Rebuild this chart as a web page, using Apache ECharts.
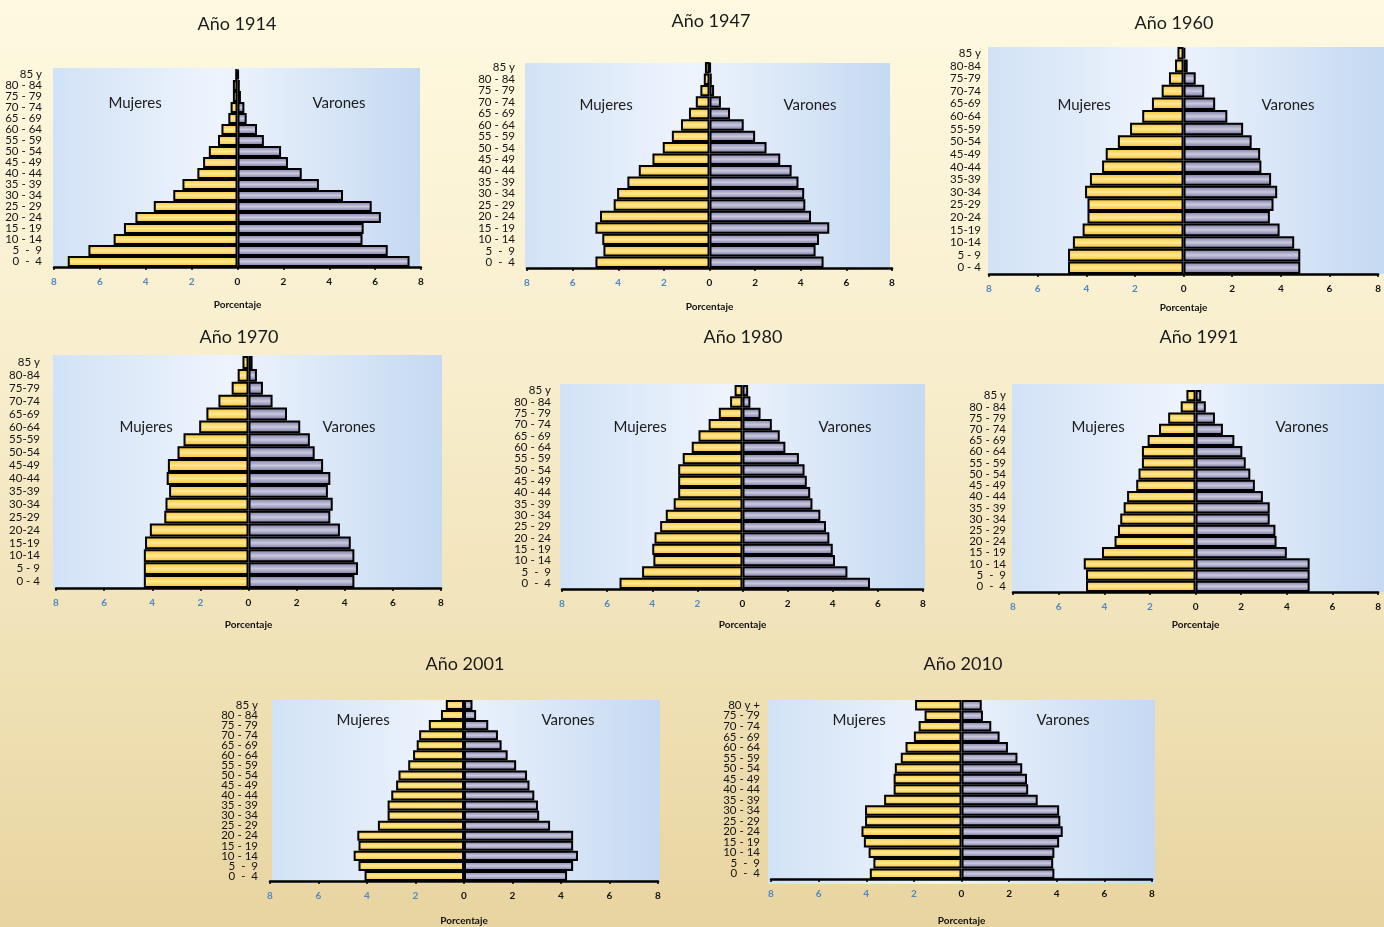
<!DOCTYPE html>
<html>
<head>
<meta charset="utf-8">
<title>Pirámides de población</title>
<script src="https://cdn.jsdelivr.net/npm/echarts@6/dist/echarts.min.js"></script>
<style>
  html, body { margin: 0; padding: 0; width: 1384px; height: 927px; overflow: hidden; }
  body { background: linear-gradient(to bottom, #fef9e0 0%, #f8eecd 40%, #efe0b4 75%, #e8d4a0 100%); }
  #chart { width: 1384px; height: 927px; }
</style>
</head>
<body>
<div id="chart"></div>
<script>
// Age groups (bottom to top)
const agesA = ['0  -  4', '5  -  9', '10 - 14', '15 - 19', '20 - 24', '25 - 29', '30 - 34', '35 - 39', '40 - 44', '45 - 49', '50 - 54', '55 - 59', '60 - 64', '65 - 69', '70 - 74', '75 - 79', '80 - 84', '85 y'];
const agesB = ['0 - 4', '5 - 9', '10-14', '15-19', '20-24', '25-29', '30-34', '35-39', '40-44', '45-49', '50-54', '55-59', '60-64', '65-69', '70-74', '75-79', '80-84', '85 y'];
const ages2010 = ['0  -  4', '5  -  9', '10 - 14', '15 - 19', '20 - 24', '25 - 29', '30 - 34', '35 - 39', '40 - 44', '45 - 49', '50 - 54', '55 - 59', '60 - 64', '65 - 69', '70 - 74', '75 - 79', '80 y +'];

// Percent of population per age group (bottom to top)
const mujeres1914 = [7.4, 6.5, 5.4, 4.95, 4.45, 3.65, 2.8, 2.4, 1.75, 1.5, 1.25, 0.85, 0.7, 0.4, 0.3, 0.2, 0.2, 0.1];
const varones1914 = [7.5, 6.55, 5.45, 5.5, 6.25, 5.85, 4.6, 3.55, 2.8, 2.2, 1.9, 1.15, 0.85, 0.4, 0.3, 0.15, 0.1, 0.05];

const mujeres1947 = [5.0, 4.65, 4.7, 5.0, 4.8, 4.2, 4.05, 3.6, 3.1, 2.5, 2.05, 1.65, 1.25, 0.9, 0.6, 0.4, 0.25, 0.2];
const varones1947 = [5.0, 4.65, 4.8, 5.25, 4.45, 4.2, 4.15, 3.9, 3.6, 3.1, 2.5, 2.0, 1.5, 0.9, 0.5, 0.2, 0.1, 0.05];

const mujeres1960 = [4.75, 4.75, 4.55, 4.15, 3.95, 3.95, 4.05, 3.85, 3.35, 3.2, 2.7, 2.2, 1.7, 1.3, 0.9, 0.6, 0.35, 0.25];
const varones1960 = [4.8, 4.8, 4.55, 3.95, 3.55, 3.7, 3.85, 3.6, 3.2, 3.15, 2.8, 2.45, 1.8, 1.3, 0.85, 0.5, 0.17, 0.07];

const mujeres1970 = [4.35, 4.35, 4.35, 4.3, 4.1, 3.5, 3.45, 3.3, 3.4, 3.35, 2.95, 2.7, 2.05, 1.75, 1.25, 0.7, 0.45, 0.25];
const varones1970 = [4.4, 4.55, 4.4, 4.25, 3.8, 3.4, 3.5, 3.3, 3.4, 3.1, 2.75, 2.55, 2.15, 1.6, 1.0, 0.6, 0.35, 0.17];

const mujeres1980 = [5.45, 4.45, 3.95, 4.0, 3.9, 3.65, 3.4, 3.05, 2.85, 2.85, 2.85, 2.65, 2.25, 1.95, 1.5, 1.05, 0.55, 0.35];
const varones1980 = [5.65, 4.65, 4.1, 4.0, 3.85, 3.7, 3.45, 3.1, 3.0, 2.85, 2.75, 2.5, 1.9, 1.65, 1.3, 0.8, 0.35, 0.25];

const mujeres1991 = [4.8, 4.8, 4.9, 4.1, 3.55, 3.4, 3.3, 3.15, 3.0, 2.6, 2.5, 2.35, 2.35, 2.1, 1.6, 1.2, 0.65, 0.4];
const varones1991 = [5.0, 5.0, 5.0, 4.0, 3.55, 3.5, 3.25, 3.25, 2.95, 2.6, 2.4, 2.2, 2.05, 1.7, 1.2, 0.85, 0.45, 0.25];

const mujeres2001 = [4.1, 4.35, 4.55, 4.35, 4.4, 3.55, 3.15, 3.15, 3.0, 2.8, 2.7, 2.3, 2.1, 1.95, 1.85, 1.45, 0.95, 0.75];
const varones2001 = [4.25, 4.5, 4.7, 4.5, 4.5, 3.55, 3.1, 3.05, 2.9, 2.7, 2.6, 2.15, 1.8, 1.55, 1.4, 1.0, 0.5, 0.35];

const mujeres2010 = [3.85, 3.7, 3.9, 4.1, 4.2, 4.05, 4.05, 3.25, 2.85, 2.85, 2.8, 2.55, 2.35, 2.0, 1.8, 1.55, 1.95];
const varones2010 = [3.9, 3.85, 3.9, 4.1, 4.25, 4.15, 4.1, 3.2, 2.8, 2.75, 2.55, 2.35, 1.95, 1.6, 1.25, 0.9, 0.85];

// Axis ticks (percent)
const xMin = -8, xMax = 8, xStep = 2;

const panels = [
  { year: '1914', ages: agesA,   mujeres: mujeres1914, varones: varones1914 },
  { year: '1947', ages: agesA,   mujeres: mujeres1947, varones: varones1947 },
  { year: '1960', ages: agesB,   mujeres: mujeres1960, varones: varones1960 },
  { year: '1970', ages: agesB,   mujeres: mujeres1970, varones: varones1970 },
  { year: '1980', ages: agesA,   mujeres: mujeres1980, varones: varones1980 },
  { year: '1991', ages: agesA,   mujeres: mujeres1991, varones: varones1991 },
  { year: '2001', ages: agesA,   mujeres: mujeres2001, varones: varones2001 },
  { year: '2010', ages: ages2010, mujeres: mujeres2010, varones: varones2010 }
];

// Placement of each pyramid on the page (pixels)
const layout = [
  { left: 54,   right: 421,  top: 69,  bottom: 267, bg: [53, 68, 420, 267],    title: [237, 25],  muj: [135, 103], var: [339, 103], lm: 12, ng: 33 },
  { left: 527,  right: 892,  top: 62,  bottom: 268, bg: [525, 63, 890, 268],   title: [711, 22],  muj: [606, 105], var: [810, 105], lm: 12, ng: 34 },
  { left: 989,  right: 1384, top: 47,  bottom: 274, bg: [988, 47, 1384, 274],  title: [1174, 24], muj: [1084, 105], var: [1288, 105], lm: 8, ng: 29 },
  { left: 56,   right: 441,  top: 356, bottom: 588, bg: [53, 355, 442, 588],   title: [239, 338], muj: [146, 427], var: [349, 427], lm: 16, ng: 32 },
  { left: 562,  right: 923,  top: 385, bottom: 589, bg: [560, 384, 925, 589],  title: [743, 338], muj: [640, 427], var: [845, 427], lm: 11, ng: 31 },
  { left: 1013, right: 1383, top: 390, bottom: 592, bg: [1012, 384, 1384, 592], title: [1199, 338], muj: [1098, 427], var: [1302, 427], lm: 7, ng: 28 },
  { left: 270,  right: 658,  top: 700, bottom: 883, bg: [272, 700, 660, 883],  title: [465, 665], muj: [363, 720], var: [568, 720], lm: 12, ng: 35 },
  { left: 771,  right: 1152, top: 700, bottom: 884, bg: [768, 700, 1155, 884], title: [963, 665], muj: [859, 720], var: [1063, 720], lm: 11, ng: 37 }
];

const FONT = 'Lato, "Open Sans", sans-serif';

// Bars are shaded like rounded tubes: deeper tone at top and bottom edges
const womenFill = {
  type: 'linear', x: 0, y: 0, x2: 0, y2: 1,
  colorStops: [
    { offset: 0, color: '#f5be22' },
    { offset: 0.5, color: '#ffe995' },
    { offset: 1, color: '#f2b91e' }
  ]
};
const menFill = {
  type: 'linear', x: 0, y: 0, x2: 0, y2: 1,
  colorStops: [
    { offset: 0, color: '#71719c' },
    { offset: 0.5, color: '#c9c9df' },
    { offset: 1, color: '#6a6a95' }
  ]
};
const plotFill = {
  type: 'linear', x: 0, y: 0, x2: 1, y2: 0,
  colorStops: [
    { offset: 0, color: '#d2e2f6' },
    { offset: 0.45, color: '#eef4fd' },
    { offset: 1, color: '#c5d9f2' }
  ]
};

const option = {
  animation: false,
  title: [], grid: [], xAxis: [], yAxis: [], series: [], graphic: []
};

panels.forEach((p, i) => {
  const L = layout[i];
  option.title.push({
    text: 'Año ' + p.year, padding: 0,
    left: L.title[0], top: L.title[1] - 10, textAlign: 'center',
    textStyle: { fontFamily: FONT, fontSize: 18, fontWeight: 'normal', color: '#1a1a1a' }
  });
  option.grid.push({
    left: L.left, top: L.top, width: L.right - L.left, height: L.bottom - L.top,
    containLabel: false
  });
  option.xAxis.push({
    gridIndex: i, type: 'value', min: xMin, max: xMax, interval: xStep,
    name: 'Porcentaje', nameLocation: 'middle', nameGap: L.ng,
    nameTextStyle: { fontFamily: FONT, fontSize: 10, fontWeight: 'bold', color: '#111' },
    axisLine: { show: true, lineStyle: { color: '#000', width: 2.5 } },
    axisTick: { show: true, length: 3, lineStyle: { color: '#000', width: 1.5 } },
    splitLine: { show: false },
    axisLabel: {
      margin: 10, fontFamily: FONT, fontSize: 10, fontWeight: 'bold',
      showMinLabel: true, showMaxLabel: true,
      formatter: v => String(Math.abs(v)),
      color: v => (v < 0 ? '#4f88c6' : '#111')
    }
  });
  option.yAxis.push({
    gridIndex: i, type: 'category', data: p.ages, position: 'left',
    axisLine: { show: false, onZero: false },
    axisTick: { show: false },
    splitLine: { show: false },
    axisLabel: { interval: 0, margin: L.lm, fontFamily: FONT, fontSize: 11.5, color: '#141414' }
  });
  option.series.push({
    name: 'Mujeres', type: 'bar', xAxisIndex: i, yAxisIndex: i, stack: 'p' + i,
    barCategoryGap: '0%',
    data: p.mujeres.map(v => -v),
    itemStyle: { color: womenFill, borderColor: '#000', borderWidth: 2 },
    emphasis: { disabled: true }
  });
  option.series.push({
    name: 'Varones', type: 'bar', xAxisIndex: i, yAxisIndex: i, stack: 'p' + i,
    barCategoryGap: '0%',
    data: p.varones,
    itemStyle: { color: menFill, borderColor: '#000', borderWidth: 2 },
    emphasis: { disabled: true }
  });
  option.graphic.push({
    type: 'rect', z: -100, silent: true,
    shape: { x: L.bg[0], y: L.bg[1], width: L.bg[2] - L.bg[0], height: L.bg[3] - L.bg[1] },
    style: { fill: plotFill }
  });
  option.graphic.push({
    type: 'text', z: 100, silent: true, x: L.muj[0], y: L.muj[1],
    style: { text: 'Mujeres', fill: '#1c1c1c', font: '15px ' + FONT, textAlign: 'center', textVerticalAlign: 'middle' }
  });
  option.graphic.push({
    type: 'text', z: 100, silent: true, x: L.var[0], y: L.var[1],
    style: { text: 'Varones', fill: '#1c1c1c', font: '15px ' + FONT, textAlign: 'center', textVerticalAlign: 'middle' }
  });
});

const chart = echarts.init(document.getElementById('chart'), null, { renderer: 'canvas' });
chart.setOption(option);
</script>
</body>
</html>
